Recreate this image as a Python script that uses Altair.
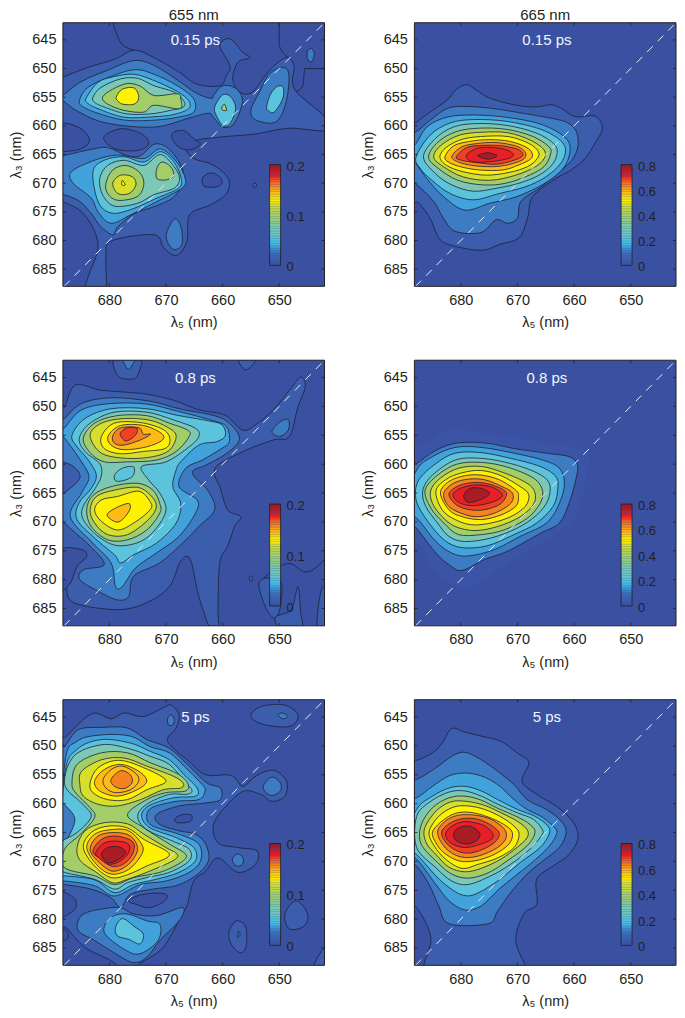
import altair as alt
import pandas as pd

# contour level colours (index = contour level, 0 = background, -1 = faint unstroked halo)
RAMP = {-1: "#3b54a5", 0: "#3a51a2", 1: "#3b5dab", 2: "#3d7cc2", 3: "#42a3dc", 4: "#5cc3dc",
        5: "#7cc8b4", 6: "#a3cd66", 7: "#d8de2c", 8: "#fff200", 9: "#fdbb13",
        10: "#f58220", 11: "#ef4023", 12: "#e81f25", 13: "#a81d24"}
CB_STOPS = [0, .12, .22, .33, .45, .58, .65, .73, .8, .88, 1]
CB_COLORS = ["#3a51a2", "#3b6db7", "#4bbde6", "#75c7c0", "#98cb80", "#cfdb2e", "#fff200",
             "#fdb913", "#f47a20", "#ec1c24", "#8f1a1f"]

XT = [680, 670, 660, 650]
YT = [645, 650, 655, 660, 665, 670, 675, 680, 685]

P1 = [
 (1, [(690.8,652.1),(688.3,651.5),(683.8,649.8),(679.1,648.4),(675.6,646.8),(672.1,648.1),(668,650.4),(664.6,652.7),(660.5,653),(659.3,651.2),(658.7,649.5),(660.5,646),(658.7,644.8),(656.4,647.2),(655.2,648.1),(657.3,648.9),(658.2,651.8),(657,654.1),(654.7,654.1),(651.8,650.4),(648.8,648.1),(647.4,649.5),(647.3,653.6),(641.9,658.5),(641.9,660.8),(648.3,660.4),(654.1,661.4),(659.9,661.9),(664.6,662.5),(666.6,663.7),(665.1,665.7),(661.7,666.8),(659,669.2),(659.3,671.8),(662.2,673.8),(665.8,675.5),(666.3,680.1),(668.1,682.6),(670.4,681.3),(672.1,679),(679.7,680.1),(680.6,683),(680.8,689.4),(684.4,689.4),(683.8,686.5),(682,680.7),(684.4,675.5),(688.3,673.2),(690.8,672.6)]),
 (0, [(691,660),(688,659.5),(685,660.5),(683.5,662.5),(685,664),(688,664.5),(691,664.5)]),
 (0, [(681,662),(678,660.5),(674.5,661.3),(673,663),(675,664.3),(679,664)]),
 (0, [(669,661.5),(667,660.8),(665,662.3),(664,663.3),(666,664.2),(668,663.5)]),
 (0, [(663.5,669),(662,668.2),(660.4,669),(660.2,670.2),(661.5,670.7),(663.3,670.5)]),
 (2, [(645,647),(644.3,646.5),(643.8,647.5),(644.3,648.8),(645,648.3)]),
 (1, [(654.3,670),(654.7,670.3),(654.3,670.8),(654,670.3)]),
 (2, [(688.5,655),(685,652.3),(680.3,650.3),(675.6,648.6),(672,649.5),(668,652),(664.6,654.3),(662,655.2),(661.6,654.7),(660,653),(657.6,653.5),(656.5,655.8),(658,659.6),(660,660.2),(661.6,658.5),(662.5,657.8),(665.5,658.5),(672,660.2),(680.5,659.5),(685.5,657.5),(688.5,655.3)]),
 (2, [(654.1,659),(650.6,659.3),(648.8,655.9),(648.3,651),(649.5,649.8),(651.8,651),(653.5,654.1),(655,657.3)]),
 (4, [(652,657.3),(650.9,657.6),(649.4,655.3),(649.3,653.3),(650.3,653.1),(651.5,654.4),(652.2,656.5)]),
 (4, [(661.4,656.7),(660,654.6),(658.5,655),(657.7,657),(658.7,659.6),(660,659.9),(661.1,658.2)]),
 (6, [(659.7,656.2),(660.2,657.1),(659.3,657.3)]),
 (3, [(685.2,655.3),(683.8,653.3),(680.3,651.6),(675.6,650.2),(672.1,651),(668,653),(665.1,655.3),(665.1,657.6),(668,658.5),(672.1,659),(677.3,659),(682,657.8),(684.9,656.5)]),
 (4, [(684,655),(682,652.4),(679.1,651.4),(675.6,651),(672.1,652.1),(668,654),(666,655.6),(666,657),(668.6,658),(672.1,658.4),(677.3,658.5),(682,657),(684,655.9)]),
 (5, [(682.9,655),(681.5,653.3),(678,651.8),(675,651.7),(672.1,653),(668.6,654.1),(666.9,655.6),(666.9,656.7),(669.2,657.3),(672.7,657.9),(677,657.9),(680.9,656.7),(682.6,655.9)]),
 (6, [(681.2,655),(679.4,653.6),(676.8,652.6),(674.5,653.1),(672.1,654.7),(668,654.4),(667.4,655.3),(667.6,657),(672.1,656.4),(673.9,657.6),(677.4,657.3),(680.3,656.2)]),
 (8, [(678.8,655),(677.7,653.6),(675.6,653.4),(674.8,655),(675.6,656.2),(677.7,656.2),(678.5,655.6)]),
 (2, [(690,665.2),(688.3,665.2),(683.2,664.1),(680.3,663.8),(676.8,665.2),(674.5,665.2),(672.1,663.2),(669.8,663.8),(667.5,666.6),(666.9,669.5),(668.6,672.4),(672.1,674.1),(675.6,675.3),(678.5,677.6),(679.4,679),(681.5,677.6),(683.2,675.3),(685.5,673),(690,670.7)]),
 (3, [(686.7,668),(682.6,666),(678.5,665.1),(673.9,665.7),(671,664),(668.1,666.3),(666.6,669.2),(667.2,670.9),(671.6,673.2),(676.2,675.5),(679.7,677),(682,675),(683.2,672.6),(686.4,670)]),
 (4, [(682.9,668),(680.9,666),(677.4,665.4),(673.9,666.3),(671,664.5),(668.6,666.3),(667.3,669.2),(667.8,670.9),(671.6,672.6),(676.2,674.6),(679.7,675.2),(682,673.2)]),
 (5, [(681.7,669.2),(680.3,666.9),(677.4,666),(673.9,666.9),(671,665),(668.6,667.1),(667.6,669.2),(668.6,670.9),(672.1,672),(675,673.5),(679.1,674),(681.2,672)]),
 (6, [(680.6,670),(679.4,667.7),(677.1,666.9),(674.8,668),(673.9,670),(675,672.3),(678.5,673),(680.3,671.8)]),
 (6, [(671.6,667.4),(670.7,666.3),(669.2,667.1),(668.6,668.6),(669.8,669.4),(671.6,669.2)]),
 (7, [(679.4,670),(678,668.6),(675.9,668.9),(675.3,670.3),(676.5,671.8),(678.5,671.8)]),
 (8, [(677.7,669.5),(677.2,670.3),(677.8,670.3)]),
 (2, [(669.8,678.4),(668.4,676.2),(667.3,677.8),(667.2,680.7),(668.6,681.6),(669.8,680.1)]),
]
L1 = [
 [(679.4,642),(677.8,645.7),(675.6,646.8)],
 [(650,642),(650,646),(648.5,648)],
 [(642,650),(645.5,650),(645.8,653),(647,654)],
]

P2 = [
 (1, [(688.2,659.6),(685.9,657.9),(682.4,655.5),(681,653.8),(679,652.8),(677.2,653.8),(674.8,655.2),(670.2,656.4),(666.7,656.7),(664.1,656.3),(662.1,657),(659.8,658.4),(656.3,658.3),(655,660.4),(656.3,663),(658,665.6),(660.4,667.6),(663.9,669.6),(667.4,672.5),(668.2,676),(669.7,679.5),(673.2,680.7),(676.1,681.7),(680.2,681.2),(683.6,679.9),(685.4,676.2),(687.4,673.5),(688.2,673.4),(690.7,673.4),(690.7,660.5)]),
 (2, [(688.2,661.2),(685.4,659),(682.5,657),(679.6,656.6),(674.9,656.9),(670.3,657.6),(665,658.5),(661.5,659.3),(659.7,660.8),(659.3,663.4),(660.4,666),(663.3,668.6),(666.2,670.9),(669.4,673.2),(670,676.1),(671.7,677),(673.8,676.4),(676.4,678.6),(681,678.4),(683.1,676.1),(684.8,673.2),(688.2,670),(690.7,669.7),(690.7,661.6)]),
 (3, [(688.2,663.4),(686,660.2),(682.5,658.5),(677.8,658.1),(672,658.5),(666.2,659.6),(662.1,661.6),(660.7,663.7),(661.5,666.8),(663.9,669.2),(667.4,671.2),(670.9,672.6),(674.9,673.5),(679.3,674.7),(683.1,672.3),(686,669.2),(688.2,666.3),(690.7,664.5)]),
 (4, [(687.9,665.4),(685.4,661.6),(681.9,659.5),(677.8,658.9),(672,659.2),(666.2,660.5),(662.7,662.3),(661.5,664.2),(662.4,666.6),(665,668.9),(668.5,670.6),(673.2,671.8),(677.8,672.9),(681.9,671.8),(685.1,669.5),(687.2,667.4)]),
 (5, [(686.6,665.4),(684.5,662.2),(681.3,660.2),(677.3,659.6),(672,659.9),(666.8,661.2),(663.6,663.1),(663,664.8),(663.9,666.8),(666.2,668.6),(669.7,670),(673.8,670.9),(677.8,671.4),(681.6,670.3),(684.5,668.3)]),
 (6, [(685.7,665.4),(684,662.8),(680.8,661),(676.7,660.4),(672,660.6),(667.4,661.8),(664.4,663.7),(664.2,665.1),(665.3,667.1),(667.9,668.6),(672,670),(676.1,670.3),(680.5,669.5),(684,667.4)]),
 (7, [(684.8,665.4),(683.4,663.3),(680.2,661.6),(676.1,661.1),(671.7,661.2),(667.7,662.5),(665.3,664.2),(665.3,665.7),(666.8,667.1),(670.3,668.6),(674.9,669.5),(679.6,668.9),(683.1,667.1)]),
 (8, [(683.7,665.4),(682.5,663.7),(679.6,662.3),(675.5,661.8),(671.4,661.9),(667.9,663.1),(666.3,664.5),(666.5,665.7),(668.2,667.1),(671.4,668.1),(675.5,668.6),(679.6,668),(682.5,666.9)]),
 (9, [(682.8,665.4),(681.3,663.5),(678.4,662.7),(674.9,662.4),(671.4,662.7),(668.5,663.7),(667.4,664.8),(667.7,665.8),(669.7,666.8),(672.6,667.7),(676.7,667.7),(680.2,667.1),(682.2,666.3)]),
 (10, [(681.6,665.4),(679.9,663.7),(677.3,663.1),(673.8,662.9),(670.3,663.5),(668.7,664.5),(668.8,665.7),(670.9,666.6),(673.8,667.1),(677.3,667),(680.2,666.4)]),
 (11, [(680.8,665.4),(679,663.8),(676.1,663.4),(672.6,663.5),(669.7,664.2),(669.1,665.2),(670.6,666),(673.8,666.7),(677.3,666.4),(679.9,666)]),
 (12, [(679,665.1),(676.7,663.8),(672.6,664),(670.7,665),(672,665.8),(675.5,666.3),(678.1,666.2)]),
 (13, [(677,665.2),(675.2,664.7),(673.6,665.2),(675.2,665.8)]),
]
L2 = []

P3 = [
 (1, [(688.9,650.1),(687.9,650.1),(686,646.3),(681.4,647.2),(674,647.8),(668.8,648.9),(664.2,650.6),(659.6,651.5),(656.5,654.1),(654.2,653.2),(651,650.6),(648.2,647.2),(646.2,644.9),(645.4,646.6),(646.7,650.1),(648.2,655.2),(651,655.8),(655.9,657.6),(660.8,660.1),(661.4,661.9),(660.5,663.9),(659.1,667.9),(656.8,669.1),(657.9,670.8),(659.1,674.2),(660.5,677.1),(660.8,685.8),(660.5,689.2),(661.9,689.2),(664.2,682.9),(665.7,676.5),(667.4,676.8),(669.4,681.2),(673.4,684),(678.6,685.2),(686.3,684),(687.7,681.2),(688.9,680)]),
 (0, [(688.9,675.1),(684.9,674.8),(684,676),(685.7,677.7),(686.9,680.6),(688.9,681.7)]),
 (2, [(688.9,653),(687.9,652.1),(684.9,649.5),(679.7,648.5),(672.8,649.1),(667.7,650.4),(661.9,651.5),(659.1,652.7),(657,655.5),(659.1,658),(662.8,660.1),(665.2,661.1),(664.8,662.4),(662.5,664.7),(661.4,667.9),(664.2,670.8),(667.1,673.7),(671.1,677.1),(675.7,679.4),(676.6,682.9),(678.6,683.5),(682,682),(685.2,680),(684.6,678.3),(680.9,677.4),(683.4,674.2),(687.9,670.2),(688.9,668.5)]),
 (1, [(688.9,660.1),(686.5,660.3),(685.2,662.4),(687.9,664.9),(688.9,664.9)]),
 (3, [(687.9,653.7),(684.9,650.6),(679.7,649.5),(673.4,649.6),(667.7,650.9),(661.9,652.4),(659.3,653.5),(658.8,656.1),(660.2,657.3),(663.6,659.3),(666.5,660.7),(667.7,663.9),(664.5,666.2),(664.8,668.5),(667.7,672.5),(671.7,675.4),(675.4,678),(677.7,681.2),(678.9,681.2),(679.7,677.1),(682.9,673.7),(686.9,669.1),(684.9,665),(683.6,662.3),(684.9,659.6),(687.9,655.5),(688.9,654.6)]),
 (4, [(686.6,655),(684.3,652.1),(679.7,650.4),(673.4,650.4),(668.2,651.5),(662.5,652.5),(660.1,653.2),(659.5,655),(661,656.1),(664.2,656.7),(667.4,659.6),(668.2,661),(668.8,663.9),(667.4,666.8),(668.2,670.2),(671.7,673.7),(675.7,675.7),(678,677.1),(679.1,675.7),(682.6,672.8),(685.7,669.6),(685.4,666.8),(683.2,664.2),(682.3,661.9),(683.7,659.3),(685.7,657)]),
 (5, [(685.3,655.5),(683.4,652.9),(679.1,651),(673.4,651),(668.8,652.3),(664.8,653.8),(664.2,655.2),(665.9,657),(670,659.6),(674.3,660.4),(673.1,662.7),(671.1,665),(670,667.9),(671.7,671.1),(674.5,673.4),(678.6,674.1),(682,672.5),(684.6,669.6),(684.6,667.3),(682.3,663.9),(681.4,661.9),(681.7,659.9),(684.3,657.8)]),
 (4, [(679.1,661.9),(677.7,660.7),(675.7,660.5),(676,662.2),(678.6,663)]),
 (6, [(684.6,655.5),(682.6,652.9),(678.6,651.6),(673.4,651.6),(669.4,652.9),(666.2,654.1),(665.9,655.2),(668.2,657.8),(671.7,659.3),(676.8,659.6),(680.9,659.6),(683.4,658)]),
 (7, [(683.4,655),(681.4,652.9),(677.4,652.1),(672.8,652.4),(669.4,653.8),(668.2,655.2),(669.4,657.6),(672.3,658.7),(676.8,659),(681.4,658.1)]),
 (8, [(681.4,655.2),(679.1,652.9),(674.5,652.8),(670.5,654),(669.3,655.7),(670.2,657.3),(674,657.8),(678,658.2),(680.9,657.3)]),
 (9, [(680.2,655.1),(678,653.3),(674,653.3),(670.9,654.6),(670.6,655.8),(673.4,657),(677.4,657.5),(679.7,656.7)]),
 (10, [(679.4,655.1),(678,653.7),(674.8,653.7),(674,654.8),(672.7,654.8),(674.5,655.8),(677.4,656.7),(679.1,656.4)]),
 (11, [(678.1,654.7),(676.8,653.7),(675.1,653.8),(675.4,655),(677.1,656)]),
 (6, [(684,667.9),(682.9,665.4),(679.7,663.9),(675.1,663.3),(672.3,664.5),(671.1,666.8),(671.1,668.5),(673.4,671.4),(676.8,673.1),(680.3,673.1),(683.2,670.8)]),
 (7, [(683.4,667.9),(682.3,665.6),(679.1,664.5),(675.1,664),(672.8,665.3),(671.7,667.3),(673.1,669.6),(676.8,672.2),(680.3,672.2),(682.6,670.2)]),
 (8, [(682.6,667.9),(681.4,666.2),(678.6,665.6),(674.8,664.7),(672.8,666.5),(672.8,667.9),(675.7,670.2),(678.6,671.4),(681.4,669.9)]),
 (9, [(680.4,668.8),(678.9,667.6),(676.6,666.8),(676.4,667.9),(677.7,669.6),(678.9,670)]),
 (1, [(679.1,641.4),(678.6,644.6),(676.3,645.3),(675,644.6),(674.5,641.4)]),
 (2, [(677.7,641.4),(676.6,643.6),(675.4,641.4)]),
 (1, [(657.3,641.4),(655.9,643.7),(653.9,641.4)]),
 (2, [(651.3,654.4),(649.9,652.7),(648.4,652.3),(648.4,654.1),(649.9,655.2)]),
 (1, [(653.6,680.6),(651.6,679.7),(649.6,680.6),(649.9,685.2),(651,686.6),(652.5,684.6)]),
 (1, [(647.9,685.2),(646.7,681.2),(646.2,685.8),(645.9,689.2),(649.3,689.2),(650.7,686.6)]),
 (1, [(643.3,689.2),(642.7,682.3),(641.3,681.4),(641.3,689.2)]),
 (1, [(655.3,679.8),(655,679.3),(654.7,679.8),(655,680.3)]),
]
L3 = [[(642.1,676.6),(645.3,678.7),(648.2,677.2),(650.5,678),(652.7,679.7)]]

P4 = [
 (-1, [(686.1,656.4),(682.1,654.1),(674.7,654.8),(666,656.1),(658,657.6),(657.4,659.9),(658.6,665.6),(660.3,669.9),(666,673.7),(671.8,677.1),(677.5,680.9),(683.3,680),(687.3,674.2),(690.2,668.5),(690.2,658.7)]),
 (2, [(687.8,659.9),(684.4,657.6),(680.4,656.3),(675.2,656.4),(670.6,657.3),(664.9,658.1),(660.9,658.7),(659.4,660.1),(659.7,662.7),(660.9,666.8),(662.6,670.2),(666,672),(671.8,675.1),(675.8,676.5),(679.8,678.4),(682.1,677.4),(684.4,675.4),(687.3,671.7),(690.2,667.9),(690.2,661)]),
 (3, [(687.8,661),(685,658.7),(681,657.1),(676.4,657.1),(670.6,658.1),(665.5,659.3),(662.6,660.7),(661.7,663.3),(662.6,666.8),(664.9,670.2),(669.5,672.5),(674.1,674.8),(678.7,675.9),(681.6,675.4),(684.4,673.4),(687,670.2),(689.6,666.8)]),
 (4, [(687.4,662.7),(684.4,659.9),(681,658.1),(676.4,658),(671.2,659),(666,660.4),(663.2,662.2),(662.9,664.5),(663.7,667.3),(666.6,670.2),(670.6,672.2),(675.2,674.1),(679.3,674.5),(682.1,673.7),(684.4,671.7),(687,668.2),(688,665.6)]),
 (5, [(686.7,664.5),(685,661.9),(681,659.3),(676.4,659),(671.2,659.9),(666.6,661.5),(664.4,663.3),(664.6,666.2),(666.6,668.8),(670.1,671.1),(674.7,672.8),(679.3,673.4),(682.1,672.5),(684.1,670.2),(686.2,667.3)]),
 (6, [(686.3,664.5),(684.1,661.9),(680.7,660),(676.4,659.7),(671.8,660.5),(667.2,662.4),(665.6,664.5),(666,666.8),(668.3,669.4),(672.4,671.4),(676.4,672.2),(680.4,672.2),(683,670.2),(685.3,667.6)]),
 (7, [(685.3,664.5),(683.6,662.4),(680.4,660.7),(676.4,660.4),(672.4,661.5),(668.3,663.3),(666.9,665),(667.2,667),(669.5,669.1),(673.5,670.8),(677.5,671.5),(681,670.8),(683.3,669.1),(685,666.8)]),
 (8, [(684.4,664.7),(682.7,662.7),(679.8,661.5),(676.4,661.1),(672.9,662),(669.5,663.9),(668,665.3),(668.6,667.3),(671.2,669.1),(674.7,670.2),(678.1,670.5),(681,669.6),(683.3,667.9)]),
 (9, [(683.6,665),(682.1,663),(679.3,662),(676.4,661.9),(673.2,662.7),(670.3,664.5),(669.8,665.6),(670.3,667.3),(672.9,668.8),(676.4,669.6),(679.8,669.1),(682.1,667.9)]),
 (10, [(683,665),(681.3,663.3),(678.7,662.6),(675.8,662.7),(672.9,663.8),(670.9,665),(671.2,666.8),(674.1,668.5),(677.5,669.1),(680.7,668.2),(682.4,667)]),
 (11, [(682.1,665.3),(680.7,663.9),(678.1,663.2),(675.2,663.4),(672.4,664.5),(672,665.6),(673.5,667.2),(677,668),(680.4,667.3)]),
 (12, [(681.4,665.3),(680.1,664.2),(677.5,663.6),(674.7,663.9),(672.8,665),(673,665.9),(675.2,666.8),(678.1,667.2),(680.4,666.6)]),
 (13, [(679.5,665.5),(678.4,664.2),(676.4,664.2),(674.9,665.1),(676.7,666.2),(678.7,666.6)]),
]
L4 = []

P5 = [
 (1, [(688.9,648.9),(687.9,648.6),(684.3,645.2),(682.3,644.3),(679.7,645.3),(677.4,644.3),(674,644.9),(670.5,643.4),(669.1,642.9),(667.7,644.6),(668.2,646.9),(669.7,649.2),(665.9,652.7),(663,655),(658.5,655.1),(656.5,657),(654.5,655.5),(652.7,654.5),(650.7,654.3),(648.7,656.1),(649,658.7),(651.3,659.6),(653.3,658.4),(656.2,657.8),(659.1,660.1),(661.6,663.6),(660.8,666.8),(657.3,667.6),(653.9,668.2),(654.2,670.5),(657.3,671.9),(660.8,669.4),(663,671.7),(665.1,673.4),(666.2,677.4),(667.1,679.1),(670.5,684.9),(674.6,687.7),(675.7,689),(677.4,689),(679.7,687.2),(684.3,684.9),(687.7,681.4),(688.9,680.9)]),
 (0, [(688.9,675.4),(686.3,676.3),(685.9,678),(687.7,679.4),(688.9,679.7)]),
 (0, [(687.9,681.7),(687.2,682.9),(687.9,683.7),(688.9,683.7),(688.9,681.7)]),
 (0, [(676.6,676.8),(674,675.7),(670.2,675.6),(670.2,676.8),(672.8,678),(675.1,677.5)]),
 (2, [(688.9,650.4),(687.9,650.1),(685.5,647.2),(681.4,646.8),(676.8,646.9),(673.4,648.9),(669.4,650.4),(665.9,653.5),(662.8,656.4),(660.4,657.3),(660.4,659.3),(663.1,659.9),(667.7,660.4),(671.7,661.9),(671.1,663.6),(667.7,664.7),(664.8,665.3),(663,667),(662.5,669.9),(664.8,672.5),(668.2,674.2),(672.3,674.8),(676.3,675.7),(678,678),(679.7,676.3),(683.2,674.8),(687.9,674),(688.9,673.7)]),
 (0, [(668.4,662.6),(667.1,661.9),(665.5,662),(665.7,663.1),(668,663.3)]),
 (2, [(685.5,682),(685.2,679.7),(683.2,678.6),(679.4,678),(677.7,678.1),(675.7,679.1),(671.7,679.4),(667.2,678),(667.1,679.4),(668.5,681.2),(671.1,683.7),(673.4,686.6),(675.9,687.5),(679.7,685.5),(682.6,683.7)]),
 (3, [(680.9,682.3),(679.7,679.7),(676.9,679.1),(673.4,680.3),(671.1,680.9),(671.4,683.7),(674.6,686),(677.4,685.2)]),
 (4, [(678.9,681.4),(677.7,679.9),(675.7,681.2),(674,682.6),(674.6,684.3),(676.6,683.5),(678.6,682.9)]),
 (3, [(687.9,653.2),(685.7,649.2),(681.4,648.1),(676.3,648.3),(672.9,650.1),(669.4,651.2),(666.5,653.8),(663.6,656.7),(663.1,657.8),(664.2,659.3),(668.2,659.6),(672.5,660.7),(673.4,662.4),(672.3,663.9),(667.7,665.3),(664.2,667),(663.9,669.9),(665.9,671.9),(670,673.4),(674.5,674),(679.1,676),(682.6,674.2),(687.9,673.4),(688.9,673.4)]),
 (4, [(687.9,655),(685.7,650.6),(681.4,648.9),(676.3,649.5),(672.9,650.9),(669.4,652.4),(666.8,655),(664.5,657.3),(664.8,658.7),(668.8,659),(673.1,660.4),(674.3,662.2),(672.8,664.2),(668.2,665.9),(665.1,667.6),(664.8,669.9),(667.7,671.9),(671.7,673.1),(675.7,674),(679.1,675.4),(682.6,673.2),(687.9,672.5),(688.9,672.5)]),
 (2, [(688.9,660.1),(687.2,660.9),(686.1,663),(687.7,666.5),(688.9,666.5)]),
 (5, [(687.9,656.7),(686.3,651.8),(681.4,649.8),(676.8,650.4),(672.8,651.8),(669.4,653.2),(666.5,656.4),(665.4,657.8),(666.5,658.4),(669.4,658.4),(673.4,660.1),(675,662.2),(673.4,664.5),(668.8,666.5),(665.9,667.9),(665.9,669.9),(669.4,671.9),(673.4,672.8),(676.8,673.7),(679.1,674.8),(682.6,673.1),(687.9,671.9),(688.9,671),(688.9,667.1),(685.7,665),(683.2,662.2),(684.9,659.9)]),
 (6, [(686.6,656.7),(685.7,653.2),(681.4,651.2),(676.8,651.2),(672.8,652.9),(668.2,654.7),(666.2,656.4),(666.5,657.8),(670,658.1),(673.4,659.3),(676.8,661.9),(673.9,664.2),(669.4,667),(666.5,668.8),(667.4,670.2),(671.1,671.9),(675.7,672.8),(679.1,674),(682.6,672.5),(687.9,671.1),(687.9,667.9),(685.1,665.3),(682.6,662.4),(683.4,660.7),(685.7,658.4)]),
 (7, [(685.2,656.7),(684.9,654.4),(681.4,652.4),(677.4,652.1),(673.4,653.5),(668.8,655.2),(667,656.4),(667.4,657.3),(670.5,657.6),(674.5,659.3),(678.6,660.4),(682,660.1),(684.6,658.7)]),
 (8, [(683.4,656.4),(682,653.8),(678.6,652.5),(674.6,653.5),(670,656),(673.4,657.6),(676.8,659.3),(680.3,659.3),(682.9,658.1)]),
 (9, [(682.6,656.1),(680.9,654.1),(678,653.2),(674.8,654.4),(673.4,656.1),(675.1,657.6),(678.6,658.7),(681.7,657.8)]),
 (9, [(681.1,655.8),(679.7,654.1),(677.7,653.5),(675.4,654.7),(674.8,656.1),(676.3,657.6),(678.9,658.1),(680.6,657.3)]),
 (10, [(679.7,655.8),(678,654.3),(676.3,655),(676,656.4),(677.4,657.4),(679.1,657)]),
 (7, [(685.7,667.6),(684.3,664.7),(680.9,663.3),(676.8,663.5),(673.9,665.3),(670,667.6),(668,668.8),(668.8,669.9),(673.4,671.9),(676.8,673.1),(679.4,673.7),(682.3,671.9),(685.1,669.9)]),
 (8, [(684.6,667.6),(683.2,665),(680.3,663.9),(676.8,664.2),(673.9,666.2),(669.4,668.8),(673.4,670.8),(676.8,672.3),(679.7,672.8),(682.6,670.8)]),
 (9, [(684,667.6),(682.6,665.3),(679.7,664.5),(676.6,664.7),(674.3,667),(674.3,668.8),(676.6,671.4),(679.7,672.2),(682.3,670.5)]),
 (10, [(683.4,667.9),(682,665.6),(679.1,665),(676.3,665.6),(675,667.9),(676.6,670.5),(679.4,671.7),(682,670)]),
 (11, [(682.9,668.2),(681.4,666.2),(678.9,665.6),(676,666.5),(675.7,668.2),(677.1,670.2),(679.4,670.9),(681.7,669.5)]),
 (12, [(682.4,668.5),(680.9,666.8),(678.6,666.5),(676.6,667),(676.6,668.5),(678,669.9),(680,670.5),(681.7,669.5)]),
 (13, [(681.4,668.8),(680.3,667.6),(678.3,667.5),(677.1,668.5),(678.6,669.8),(680.3,670.2)]),
 (2, [(669.7,645.2),(669.1,644.6),(668.5,645.5),(668.9,646.4),(669.6,646.3)]),
 (1, [(655,644.9),(653.3,643.2),(649.2,642.9),(646.7,644.6),(648.1,646.6),(652.7,646.3)]),
 (2, [(650.2,644.6),(649.4,644.3),(648.5,644.9),(649.4,645.3)]),
 (2, [(652.7,656.7),(651.3,655.4),(649.8,656.4),(649.8,657.8),(651.3,658.6),(652.6,657.8)]),
 (2, [(658.3,669.6),(657.3,668.7),(656.4,669.4),(656.5,670.5),(657.6,670.8)]),
 (1, [(658.9,682.3),(657.6,680.3),(655.9,681.4),(655.9,684.9),(657,685.8),(658.5,684.3)]),
 (2, [(657.2,682.1),(656.9,682.6),(657.3,683.2)]),
 (1, [(649,679.1),(647,676.8),(645,679.1),(645.6,681.2),(648.2,681.7)]),
 (1, [(644.2,689),(641.9,684.9),(641.3,689)]),
]
L5 = []

P6 = [
 (1, [(690.2,652.7),(687.8,652.5),(685,651.2),(683.3,649.5),(681.6,647),(679.3,647.6),(676.4,648.3),(672.9,649.2),(670.1,651.2),(668,652.9),(669.2,656.1),(666.6,658.4),(663.2,660.4),(660.3,663),(659.3,665.9),(660.9,668.8),(663.7,670.8),(666.6,673.1),(666.6,677.4),(668.9,679.1),(670.3,683.7),(668.6,688.1),(667.8,690.7),(685.5,690.7),(685.3,683.2),(687.8,678),(690.2,676.3)]),
 (2, [(687.8,655.8),(684.4,653.8),(681.6,651.8),(679.3,651.1),(676.4,652.4),(673.5,654.4),(670.6,656.7),(668.3,659.3),(664.9,661),(662.3,663),(661.4,665),(662.6,667.6),(665.5,669.9),(668.3,672.2),(671.2,675.4),(673.5,678.6),(675.2,680.8),(682.1,680.8),(683.9,677.7),(685.6,674),(687.8,670.8),(690.2,668.8),(690.2,656.1)]),
 (3, [(687.8,659),(685,657),(682.1,655.2),(679.3,654.7),(676.4,655.2),(673.5,656.7),(670.6,659.3),(668.3,661),(665.5,662.4),(663.4,664.2),(663.1,665.3),(664.6,667.6),(667.8,670.5),(672.9,674.5),(676.4,677.7),(679.3,678.4),(682.1,676.8),(684.4,674),(687.8,669.6),(690.2,668.2),(690.2,659.6)]),
 (4, [(687.8,661),(685,658.7),(682.1,657.3),(679.3,657),(676.4,657.8),(673.5,659.3),(670,661),(666.9,662.2),(664.6,663.9),(664.4,665.3),(666,667.6),(669.5,670.2),(673.5,673.4),(677.5,675.7),(679.8,675.8),(682.1,674.5),(684.4,672.5),(687.8,668.8),(690.2,667)]),
 (5, [(687.8,662.2),(685.3,659.6),(682.1,658),(679.3,657.8),(676.4,658.7),(673.5,660.1),(670,661.6),(667.2,662.7),(665.6,664.5),(665.8,665.6),(667.8,667.9),(671.2,670.5),(674.7,672.5),(678.7,674),(681.6,673.4),(684.4,671.1),(687.8,667.6)]),
 (6, [(687,663.7),(685,660.7),(682.1,659),(679.3,658.7),(676.4,659.4),(673.5,660.8),(670,662.3),(667.8,663.6),(666.9,665),(668.3,667.3),(671.8,669.9),(675.2,672),(678.7,672.9),(681.6,672.2),(684.1,670.2),(687,667)]),
 (7, [(686.4,664.3),(684.4,661.3),(681.8,659.7),(679,659.6),(675.8,660.3),(672.9,661.6),(670.1,663),(668.3,664.5),(668.3,665.9),(670.1,667.6),(672.9,669.6),(676.4,671.2),(679.3,671.8),(682.1,671),(684.4,668.8),(686.1,666.8)]),
 (8, [(685.6,664.9),(683.9,662.2),(681.3,660.6),(678.7,660.4),(675.8,661),(672.9,662.3),(670.6,663.9),(669.7,665.3),(670.6,667.6),(673.5,669.4),(676.9,670.5),(679.8,671.2),(682.7,669.6),(684.7,667.3)]),
 (9, [(685,664.9),(683.3,663),(681,661.7),(678.4,661.5),(675.2,662.3),(672.4,663.6),(670.9,665),(671.5,667),(674.1,668.8),(677.5,669.9),(680.4,669.9),(683,668.5),(684.4,666.8)]),
 (10, [(684.1,665),(682.7,663),(680.4,662),(677.5,662),(674.7,662.7),(672.4,664.3),(672,665.9),(673.5,667.6),(677,669.1),(680.1,669.2),(682.7,667.7)]),
 (11, [(683.4,665),(682.1,663.5),(679.8,662.6),(677,662.7),(674.4,663.9),(673.2,665.3),(674.4,667),(677.5,668.4),(680.1,668.4),(682.4,667)]),
 (12, [(682.7,665.3),(681.6,663.9),(679.3,663.1),(676.4,663.6),(674.7,664.7),(674.4,666),(676.4,667),(679.3,667.6),(681.8,666.8)]),
 (13, [(681.3,665.3),(680.4,664.2),(678.4,663.9),(676.7,665),(677,666.2),(678.7,667),(680.7,666.5)]),
]
L6 = []

FONT = "Liberation Sans"
INK = "#231f20"
W = 262
XS = alt.Scale(domain=[688.2, 642], nice=False, zero=False)
YS = alt.Scale(domain=[688, 642], nice=False, zero=False)


def panel(contours, strays, time, cmax, cticks, H, cb_y, title=None):
    rows, rowsl = [], []
    for k, (lev, pts) in enumerate(contours):
        for i, (x, y) in enumerate(pts):
            rows.append(dict(x=x, y=y, i=i, id=k, fill=RAMP[lev],
                             edge="transparent" if lev < 0 else "#1d2238"))
    for k, pts in enumerate(strays):
        for i, (x, y) in enumerate(pts):
            rowsl.append(dict(x=x, y=y, i=i, id=k))

    xenc = alt.X("x:Q", scale=XS, axis=alt.Axis(
        values=XT, ticks=False, domain=False, grid=False, title="λ₅ (nm)", format="d",
        labelFont=FONT, labelFontSize=14.5, labelColor=INK, labelPadding=7,
        titleFont=FONT, titleFontSize=14.5, titleColor=INK, titleFontWeight="normal", titlePadding=9))
    yenc = alt.Y("y:Q", scale=YS, axis=alt.Axis(
        values=YT, ticks=False, domain=False, grid=False, title="λ₃ (nm)", format="d",
        labelFont=FONT, labelFontSize=14.5, labelColor=INK, labelPadding=7,
        titleFont=FONT, titleFontSize=14.5, titleColor=INK, titleFontWeight="normal", titlePadding=8))
    Y0 = alt.Y("y:Q", scale=YS, axis=None)

    layers = [alt.Chart(pd.DataFrame(rows)).mark_line(
        interpolate="cardinal-closed", strokeWidth=0.8, clip=True).encode(
        x=xenc, y=yenc, order=alt.Order("i:Q"), detail="id:N",
        fill=alt.Fill("fill:N", scale=None), stroke=alt.Stroke("edge:N", scale=None))]
    if rowsl:
        layers.append(alt.Chart(pd.DataFrame(rowsl)).mark_line(
            color="#1d2238", strokeWidth=0.8, clip=True, interpolate="monotone").encode(
            x=xenc, y=Y0, order=alt.Order("i:Q"), detail="id:N"))
    # diagonal
    layers.append(alt.Chart(pd.DataFrame({"x": [688, 642], "y": [688, 642], "i": [0, 1]})).mark_line(
        color="#e4eaf4", strokeWidth=1, strokeDash=[8, 7], clip=True).encode(x=xenc, y=Y0, order=alt.Order("i:Q")))
    # inward ticks on all four sides
    xt = pd.DataFrame({"x": XT})
    yt = pd.DataFrame({"y": YT})
    tick = dict(color=INK, strokeWidth=0.8)
    layers += [
        alt.Chart(xt).mark_rule(**tick).encode(x=xenc, y=alt.value(H), y2=alt.value(H - 3)),
        alt.Chart(xt).mark_rule(**tick).encode(x=xenc, y=alt.value(0), y2=alt.value(3)),
        alt.Chart(yt).mark_rule(**tick).encode(y=Y0, x=alt.value(0), x2=alt.value(3)),
        alt.Chart(yt).mark_rule(**tick).encode(y=Y0, x=alt.value(W), x2=alt.value(W - 3)),
    ]
    # frame
    one = pd.DataFrame({"a": [0]})
    layers.append(alt.Chart(one).mark_rect(filled=False, stroke=INK, strokeWidth=1).encode(
        x=alt.value(0), x2=alt.value(W), y=alt.value(0), y2=alt.value(H)))
    # annotation
    layers.append(alt.Chart(pd.DataFrame({"x": [664.8], "y": [645], "t": [time]})).mark_text(
        font=FONT, fontSize=15, color="#f2f5fb", baseline="middle").encode(x=xenc, y=Y0, text="t:N"))
    # column heading above the top row
    if title:
        layers.append(alt.Chart(pd.DataFrame({"t": [title]})).mark_text(
            font=FONT, fontSize=15, color=INK, baseline="middle").encode(
            x=alt.value(W / 2), y=alt.value(-8), text="t:N"))
    # colour bar
    N = 60
    cb = pd.DataFrame({"v": [cmax * i / N for i in range(N)], "v2": [cmax * (i + 1) / N for i in range(N)],
                       "c": [(i + .5) / N for i in range(N)]})
    cy = alt.Scale(domain=[0, cmax], range=cb_y, nice=False, zero=False)
    layers.append(alt.Chart(cb).mark_rect().encode(
        x=alt.value(207), x2=alt.value(218), y=alt.Y("v:Q", scale=cy, axis=None), y2="v2:Q",
        color=alt.Color("c:Q", legend=None, scale=alt.Scale(domain=CB_STOPS, range=CB_COLORS))))
    layers.append(alt.Chart(pd.DataFrame({"v": [0], "v2": [cmax]})).mark_rect(
        filled=False, stroke=INK, strokeWidth=0.8).encode(
        x=alt.value(207), x2=alt.value(218), y=alt.Y("v:Q", scale=cy, axis=None), y2="v2:Q"))
    layers.append(alt.Chart(pd.DataFrame({"v": cticks, "t": [f"{v:g}" for v in cticks]})).mark_text(
        font=FONT, fontSize=13, color=INK, align="left", baseline="middle", dy=2).encode(
        x=alt.value(224), y=alt.Y("v:Q", scale=cy, axis=None), text="t:N"))

    return alt.layer(*layers).resolve_scale(y="independent").properties(width=W, height=H)


L_T = [0, 0.1, 0.2]
R_T = [0, 0.2, 0.4, 0.6, 0.8]
CB1, CB2 = [243, 142], [246, 144]
chart = alt.concat(
    panel(P1, L1, "0.15 ps", 0.2, L_T, 264, CB1, "655 nm"), panel(P2, L2, "0.15 ps", 0.8, R_T, 264, CB1, "665 nm"),
    panel(P3, L3, "0.8 ps", 0.2, L_T, 266, CB2), panel(P4, L4, "0.8 ps", 0.8, R_T, 266, CB2),
    panel(P5, L5, "5 ps", 0.2, L_T, 266, CB2), panel(P6, L6, "5 ps", 0.8, R_T, 266, CB2),
    columns=2, spacing={"row": 74, "column": 90}, bounds="flush",
).properties(padding={"left": 0, "top": -1, "right": 0, "bottom": 0}).configure_view(fill=RAMP[0], stroke=None)

chart.save("out.html", embed_options={"renderer": "svg", "actions": False})
